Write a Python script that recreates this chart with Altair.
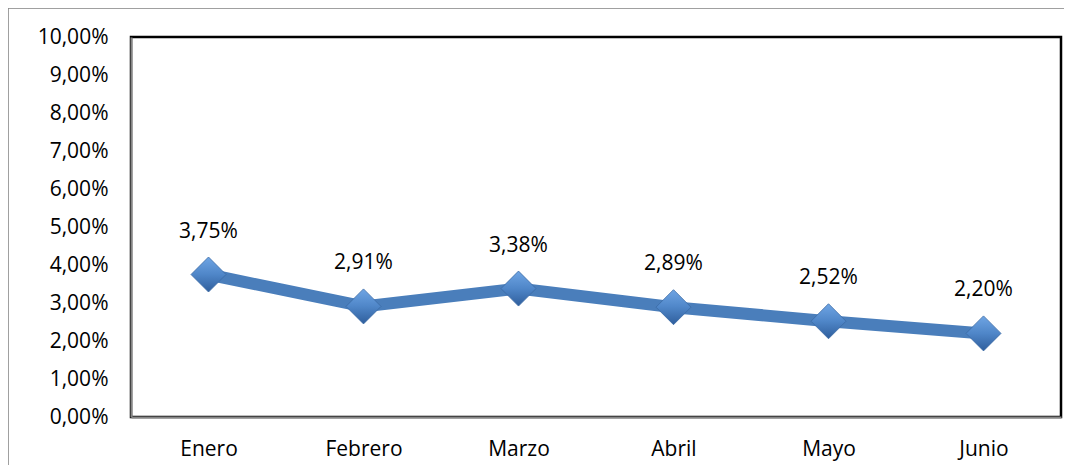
import altair as alt
import pandas as pd

meses = ["Enero", "Febrero", "Marzo", "Abril", "Mayo", "Junio"]
valores = [0.0375, 0.0291, 0.0338, 0.0289, 0.0252, 0.0220]
y_ticks = [i / 100 for i in range(0, 11)]

df = pd.DataFrame({"mes": meses, "valor": valores})

FONT = "Open Sans"
BLUE = "#4A7EBB"

x_enc = alt.X("mes:N", sort=meses, title=None,
              scale=alt.Scale(paddingOuter=0.5, paddingInner=0),
              axis=alt.Axis(labelAngle=0, ticks=False, labelPadding=21,
                            labelFontSize=21, labelFont=FONT, labelColor="#000",
                            domainColor="#868686", domainWidth=2))
y_enc = alt.Y("valor:Q", title=None,
              scale=alt.Scale(domain=[0, 0.10], nice=False),
              axis=alt.Axis(values=y_ticks, grid=False, ticks=False, labelPadding=23,
                            labelFontSize=21, labelFont=FONT, labelColor="#000",
                            domainColor="#868686", domainWidth=2,
                            labelExpr="replace(format(datum.value, '.2%'), '.', ',')"))

base = alt.Chart(df).encode(x=x_enc, y=y_enc)

frame = alt.Chart(df).mark_rect(fill=None, stroke="#8c8c8c", strokeWidth=2.5, clip=False).encode(
    x=alt.value(-124), x2=alt.value(1000), y=alt.value(-30), y2=alt.value(600)
)

line = base.mark_line(color=BLUE, strokeWidth=12)

gradient = alt.Gradient(
    gradient="linear",
    stops=[alt.GradientStop(color="#6FA5E4", offset=0),
           alt.GradientStop(color="#4F86C8", offset=0.5),
           alt.GradientStop(color="#2F5E9C", offset=1)],
    x1=0, x2=0, y1=0, y2=1,
)
points = base.mark_point(shape="diamond", filled=True, size=1225, color=gradient,
                         opacity=1, stroke="#3A6AA5", strokeWidth=0.8)

labels = base.transform_calculate(
    lab="replace(format(datum.valor, '.2%'), '.', ',')"
).mark_text(dy=-43, fontSize=21, font=FONT, color="#000").encode(text="lab:N")

chart = alt.layer(frame, line, points, labels).properties(
    width=930, height=380,
    background="white",
    autosize=alt.AutoSizeParams(type="none"),
    padding={"left": 123, "top": 29, "right": 3, "bottom": 48},
).configure_view(stroke="#000", strokeWidth=2.5)

chart.save("out.html", embed_options={"renderer": "svg", "actions": False})
